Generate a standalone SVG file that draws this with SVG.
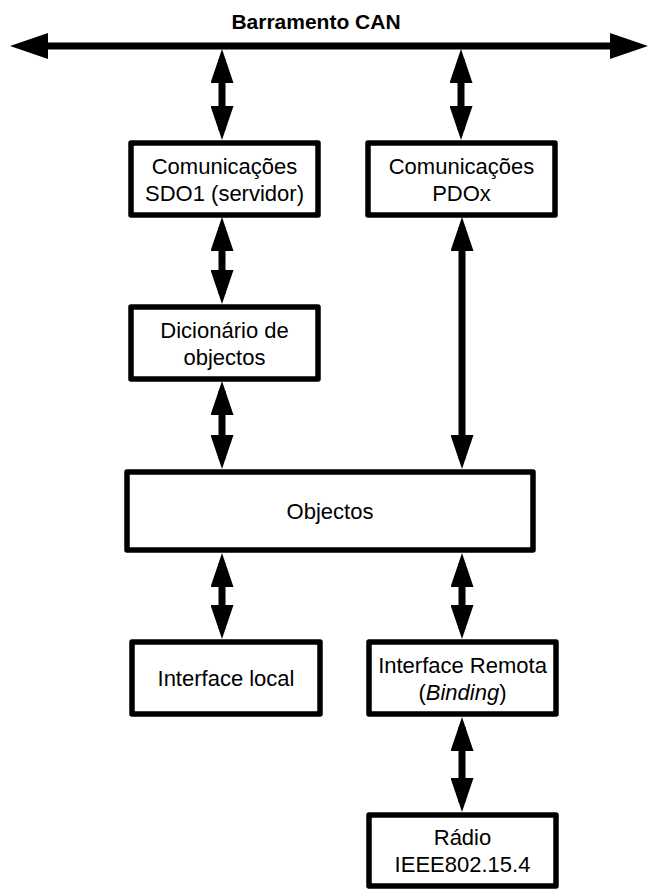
<svg xmlns="http://www.w3.org/2000/svg" width="648" height="892" viewBox="0 0 648 892">
  <style>
    .box { fill: #fff; stroke: #000; stroke-width: 5.5; stroke-linejoin: round; }
    .lbl { font-family: "Liberation Sans", Arial, sans-serif; font-size: 22px; fill: #000; text-anchor: middle; }
    .title { font-family: "Liberation Sans", Arial, sans-serif; font-size: 21px; font-weight: bold; fill: #000; text-anchor: middle; }
    .link { stroke: #000; stroke-width: 7; fill: none; marker-start: url(#head); marker-end: url(#head); }
  </style>
  <defs>
    <!-- tip sits 10 units beyond the shaft end so the thick line stays hidden under the head -->
    <marker id="head" viewBox="0 0 34 23" refX="24" refY="11.5" markerWidth="34" markerHeight="23" markerUnits="userSpaceOnUse" orient="auto-start-reverse">
      <path d="M0,0 L34,11.5 L0,23 z" fill="#000"/>
    </marker>
    <marker id="busHead" viewBox="0 0 38 26" refX="26" refY="13" markerWidth="38" markerHeight="26" markerUnits="userSpaceOnUse" orient="auto-start-reverse">
      <path d="M0,0 L38,13 L0,26 z" fill="#000"/>
    </marker>
  </defs>

  <!-- CAN bus -->
  <g id="bus">
    <text class="title" x="316" y="29">Barramento CAN</text>
    <line x1="22" y1="46" x2="636" y2="46" stroke="#000" stroke-width="7" marker-start="url(#busHead)" marker-end="url(#busHead)"/>
  </g>

  <!-- connectors: each line runs 10 units short of both tips -->
  <g id="connectors">
    <line class="link" x1="222" y1="59" x2="222" y2="130"/>
    <line class="link" x1="461" y1="59" x2="461" y2="130"/>
    <line class="link" x1="222" y1="227" x2="222" y2="294"/>
    <line class="link" x1="222" y1="391" x2="222" y2="459"/>
    <line class="link" x1="462" y1="227" x2="462" y2="459"/>
    <line class="link" x1="222" y1="563" x2="222" y2="629"/>
    <line class="link" x1="462" y1="563" x2="462" y2="629"/>
    <line class="link" x1="462" y1="727" x2="462" y2="802"/>
  </g>

  <g id="sdo">
    <rect class="box" x="131" y="143" width="187" height="72"/>
    <text class="lbl" x="224.5" y="174">Comunicações</text>
    <text class="lbl" x="224.5" y="201">SDO1 (servidor)</text>
  </g>

  <g id="pdo">
    <rect class="box" x="368" y="143" width="187" height="72"/>
    <text class="lbl" x="461.5" y="174">Comunicações</text>
    <text class="lbl" x="461.5" y="201">PDOx</text>
  </g>

  <g id="dicionario">
    <rect class="box" x="131" y="307" width="187" height="72"/>
    <text class="lbl" x="224.5" y="338">Dicionário de</text>
    <text class="lbl" x="224.5" y="365">objectos</text>
  </g>

  <g id="objectos">
    <rect class="box" x="127" y="472" width="406" height="78"/>
    <text class="lbl" x="330" y="519">Objectos</text>
  </g>

  <g id="interface-local">
    <rect class="box" x="132" y="642" width="188" height="72"/>
    <text class="lbl" x="226" y="686">Interface local</text>
  </g>

  <g id="interface-remota">
    <rect class="box" x="369" y="642" width="187" height="72"/>
    <text class="lbl" x="462.5" y="673">Interface Remota</text>
    <text class="lbl" x="462.5" y="700">(<tspan font-style="italic">Binding</tspan>)</text>
  </g>

  <g id="radio">
    <rect class="box" x="369" y="815" width="187" height="71"/>
    <text class="lbl" x="462.5" y="845">Rádio</text>
    <text class="lbl" x="462.5" y="872">IEEE802.15.4</text>
  </g>
</svg>
